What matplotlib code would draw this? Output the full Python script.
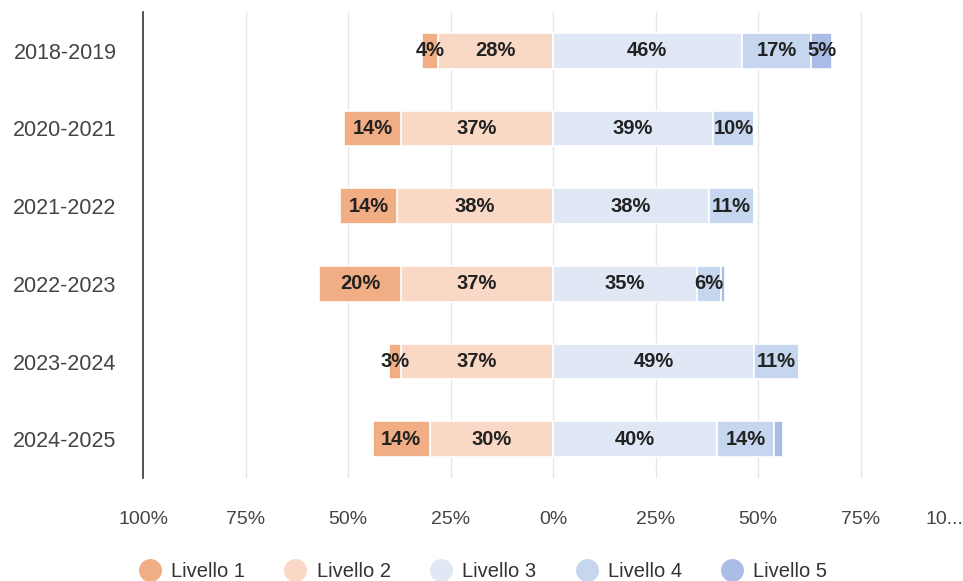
import numpy as np
import matplotlib.pyplot as plt
from matplotlib.lines import Line2D

plt.rcParams['font.family'] = ['Liberation Sans', 'DejaVu Sans']

# data (percent of students per level)
years = ['2018-2019', '2020-2021', '2021-2022', '2022-2023', '2023-2024', '2024-2025']
livello1 = [4, 14, 14, 20, 3, 14]
livello2 = [28, 37, 38, 37, 37, 30]
livello3 = [46, 39, 38, 35, 49, 40]
livello4 = [17, 10, 11, 6, 11, 14]
livello5 = [5, 0, 0, 1, 0, 2]

labels = ['Livello 1', 'Livello 2', 'Livello 3', 'Livello 4', 'Livello 5']
colors = ['#F1AD84', '#F9D8C5', '#E1E8F5', '#C5D6EE', '#A9BDE6']

fig = plt.figure(figsize=(9.63, 5.81), dpi=100)
ax = fig.add_axes([143 / 963, 1 - 478 / 581, 820 / 963, 466 / 581])

y = np.arange(len(years))
h = 0.46

# negative side: level 2 next to zero, then level 1
start = np.zeros(len(years))
for vals, c in zip([livello2, livello1], [colors[1], colors[0]]):
    vals = np.array(vals, dtype=float)
    ax.barh(y, -vals, left=-start, height=h, color=c, edgecolor='white', linewidth=1.2, zorder=2)
    for i, v in enumerate(vals):
        if v >= 3:
            ax.text(-start[i] - v / 2, y[i], f'{int(v)}%', ha='center', va='center',
                    fontsize=14.5, fontweight='bold', color='#222222', zorder=3)
    start += vals

# positive side
start = np.zeros(len(years))
for vals, c in zip([livello3, livello4, livello5], colors[2:]):
    vals = np.array(vals, dtype=float)
    ax.barh(y, vals, left=start, height=h, color=c, edgecolor='white', linewidth=1.2, zorder=2)
    for i, v in enumerate(vals):
        if v >= 3:
            ax.text(start[i] + v / 2, y[i], f'{int(v)}%', ha='center', va='center',
                    fontsize=14.5, fontweight='bold', color='#222222', zorder=3)
    start += vals

ax.set_xlim(-100, 100)
ax.set_ylim(len(years) - 0.5, -0.5)
ax.set_yticks(y)
ax.set_yticklabels(years)

ticks = [-100, -75, -50, -25, 0, 25, 50, 75, 100]
ax.set_xticks(ticks)
ax.set_xticklabels(['100%', '75%', '50%', '25%', '0%', '25%', '50%', '75%', '10...'])
ax.get_xticklabels()[-1].set_horizontalalignment('right')

ax.tick_params(axis='x', length=0, pad=24, labelsize=14, labelcolor='#444444')
ax.tick_params(axis='y', length=0, pad=19, labelsize=15.5, labelcolor='#444444')

for t in ticks[1:-1]:
    ax.axvline(t, color='#E6E6E6', linewidth=1, zorder=0)

for s in ['top', 'right', 'bottom']:
    ax.spines[s].set_visible(False)
ax.spines['left'].set_color('#333333')
ax.spines['left'].set_linewidth(1.2)

handles = [Line2D([], [], marker='o', linestyle='', markersize=15.5,
                  markerfacecolor=c, markeredgecolor=c) for c in colors]
fig.legend(handles, labels, loc='lower center', bbox_to_anchor=(0.497, -0.031), ncol=5,
           frameon=False, fontsize=14.5, handletextpad=0.05, columnspacing=1.5,
           labelcolor='#333333')

fig.savefig('out.png', dpi=100)
